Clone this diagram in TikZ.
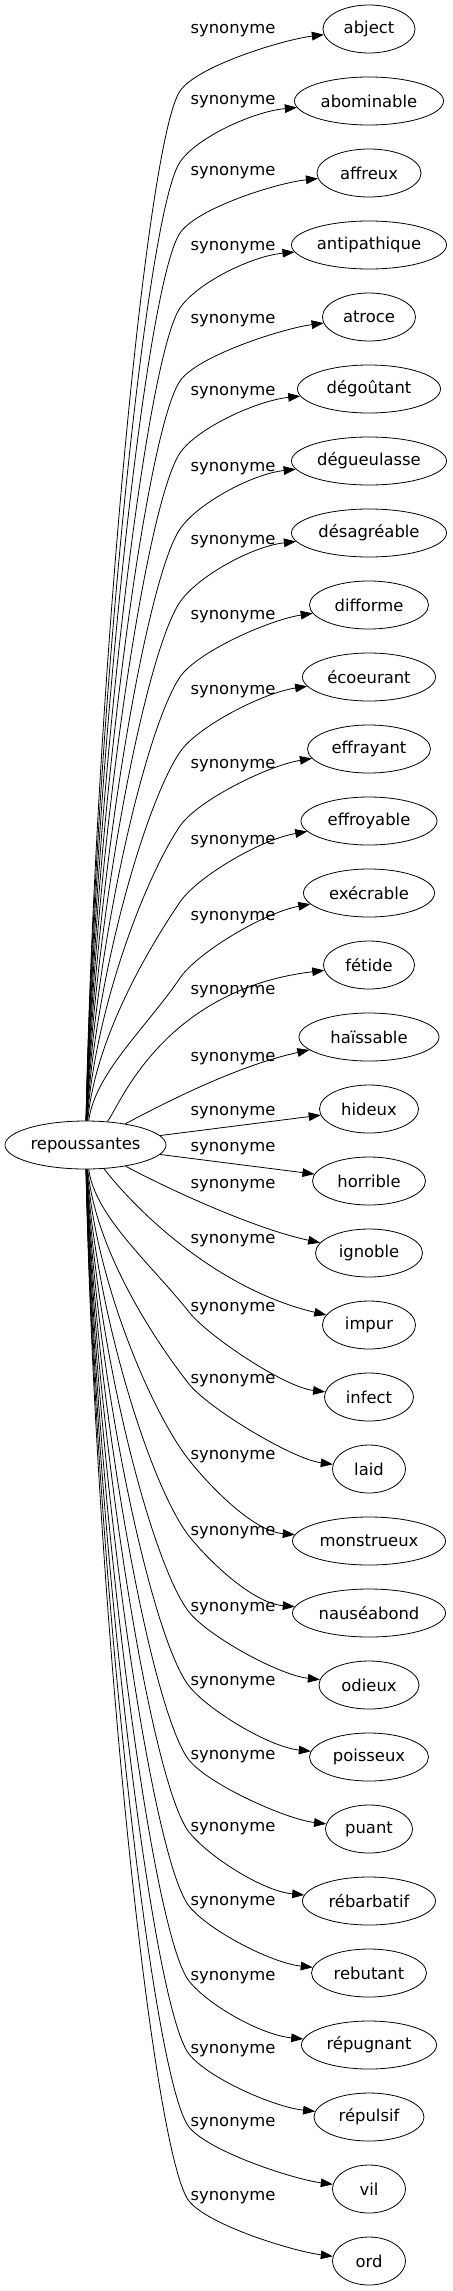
\documentclass[tikz,border=0pt]{standalone}
\usepackage{fontspec}
\setmainfont{DejaVu Sans}
\usetikzlibrary{shapes.geometric,arrows.meta,calc}
\tikzset{
  tgt/.style={draw, ellipse, minimum height=36pt, inner sep=0pt, line width=0.6pt},
  lab/.style={inner sep=0pt},
  arr/.style={-{Triangle[length=9pt,width=6.5pt]}, line width=0.6pt},
}
\begin{document}
\begin{tikzpicture}[x=0.75pt,y=-0.75pt,font=\fontsize{12.3}{14}\selectfont]
\useasboundingbox (0,0) rectangle (453,2291);
\node[tgt, minimum width=120.75pt] (c) at (85.5,1145) {repoussantes};
\foreach \i/\w/\ly/\word in {
 0/69/31/abject, 1/111.75/102/abominable, 2/78/173/affreux,
 3/116.25/248/antipathique, 4/69.75/321/atroce, 5/107.25/393/dégoûtant,
 6/116.25/469/dégueulasse, 7/116.25/542/désagréable, 8/89.25/617/difforme,
 9/99.75/692/écoeurant, 10/92.25/766/effrayant, 11/102/842/effroyable,
 12/98.25/918/exécrable, 13/68.25/992/fétide, 14/105/1059/haïssable,
 15/74.25/1113/hideux, 16/84.75/1149/horrible, 17/80.25/1186/ignoble,
 18/69.75/1241/impur, 19/66.75/1309/infect, 20/54.75/1381/laid,
 21/114.75/1457/monstrueux, 22/114.75/1533/nauséabond, 23/75/1609/odieux,
 24/89.25/1683/poisseux, 25/65.25/1757/puant, 26/99.75/1829/rébarbatif,
 27/86.25/1903/rebutant, 28/101.25/1978/répugnant, 29/82.5/2051/répulsif,
 30/54.75/2124/vil, 31/54.75/2198/ord}{
  \node[tgt, minimum width=\w pt] (n\i) at (369,{29+72*\i}) {\word};
  \node[lab] (l\i) at (233,\ly) {synonyme};
}
% upper edges
\foreach \i/\ly in {0/31,1/102,2/173,3/248,4/321,5/393,6/469,7/542,8/617,9/692,10/766,11/842,12/918}{
  \pgfmathsetmacro\ty{29+72*\i}
  \pgfmathsetmacro\wy{\ly+60}
  \pgfmathsetmacro\ay{1145-0.43*(1145-\wy)}
  \pgfmathsetmacro\by{\wy+50}
  \pgfmathsetmacro\cy{\wy-25}
  \pgfmathsetmacro\dy{10+0.4*(\ly-\ty)}
  \coordinate (w\i) at (180,\wy);
  \draw[arr] (c) .. controls (95,\ay) and (146,\by) .. (w\i)
     .. controls (197,\cy) and ($(n\i.west)+(-40,\dy)$) .. (n\i);
}
\draw[arr] (c) .. controls (118,1110) and (160,990) .. (n13);
\draw[arr] (c) .. controls (170,1100) and (240,1065) .. (n14);
\draw[arr] (c) -- (n15);
\draw[arr] (c) -- (n16);
\draw[arr] (c) .. controls (180,1195) and (260,1230) .. (n17);
\draw[arr] (c) .. controls (140,1215) and (220,1290) .. (n18);
% lower edges
\foreach \i/\ly in {19/1309,20/1381,21/1457,22/1533,23/1609,24/1683,25/1757,26/1829,27/1903,28/1978,29/2051,30/2124,31/2198}{
  \pgfmathsetmacro\ty{29+72*\i}
  \pgfmathsetmacro\wy{\ly+3}
  \pgfmathsetmacro\ay{1145+0.43*(\wy-1145)}
  \pgfmathsetmacro\by{\wy-47}
  \pgfmathsetmacro\cy{\wy+24}
  \coordinate (w\i) at (189,\wy);
  \draw[arr] (c) .. controls (95,\ay) and (152,\by) .. (w\i)
     .. controls (208,\cy) and ($(n\i.west)+(-40,-10)$) .. (n\i);
}
\end{tikzpicture}
\end{document}
